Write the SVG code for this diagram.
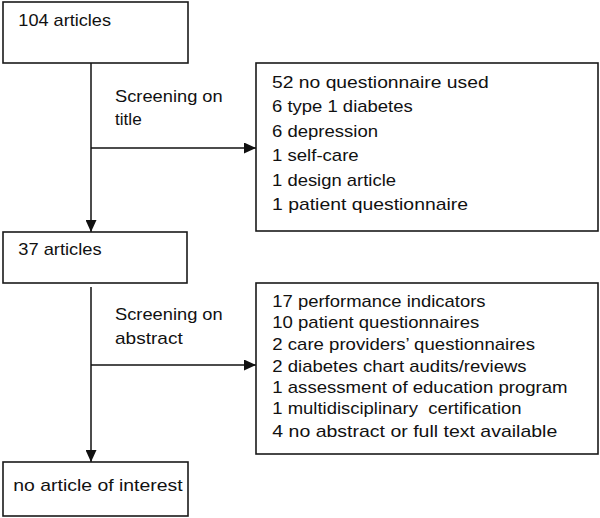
<svg xmlns="http://www.w3.org/2000/svg" width="600" height="518" viewBox="0 0 600 518">
<style>
.box{fill:#fff;stroke:#1a1a1a;stroke-width:1.6}
.t{font-family:"Liberation Sans",Arial,sans-serif;font-size:17px;fill:#111}
.c{stroke:#111;stroke-width:1.5;fill:none}
</style>
<defs>
<marker id="arr" markerUnits="userSpaceOnUse" markerWidth="12" markerHeight="11" refX="12" refY="5.5" orient="auto">
<path d="M0,0 L12,5.5 L0,11 Z" fill="#111"/>
</marker>
</defs>
<rect width="600" height="518" fill="#fff"/>
<g id="connectors">
<line class="c" x1="91" y1="63" x2="91" y2="232" marker-end="url(#arr)"/>
<line class="c" x1="91" y1="148" x2="256" y2="148" marker-end="url(#arr)"/>
<line class="c" x1="91" y1="287" x2="91" y2="462" marker-end="url(#arr)"/>
<line class="c" x1="91" y1="365" x2="256" y2="365" marker-end="url(#arr)"/>
<text class="t" x="115" y="102" textLength="107.7" lengthAdjust="spacingAndGlyphs">Screening on</text>
<text class="t" x="115" y="125" textLength="26.7" lengthAdjust="spacingAndGlyphs">title</text>
<text class="t" x="115" y="320" textLength="107.7" lengthAdjust="spacingAndGlyphs">Screening on</text>
<text class="t" x="115" y="344" textLength="67.7" lengthAdjust="spacingAndGlyphs">abstract</text>
</g>
<g id="n104">
<rect class="box" x="3" y="2" width="185" height="61"/>
<text class="t" x="18.3" y="26" textLength="92.7" lengthAdjust="spacingAndGlyphs">104 articles</text>
</g>
<g id="excluded1">
<rect class="box" x="256" y="63" width="342" height="168"/>
<text class="t" x="272" y="88" textLength="216.7" lengthAdjust="spacingAndGlyphs">52 no questionnaire used</text>
<text class="t" x="272" y="112" textLength="140.7" lengthAdjust="spacingAndGlyphs">6 type 1 diabetes</text>
<text class="t" x="272" y="137" textLength="106" lengthAdjust="spacingAndGlyphs">6 depression</text>
<text class="t" x="272" y="161" textLength="86.7" lengthAdjust="spacingAndGlyphs">1 self-care</text>
<text class="t" x="272" y="186" textLength="124" lengthAdjust="spacingAndGlyphs">1 design article</text>
<text class="t" x="272" y="210" textLength="196" lengthAdjust="spacingAndGlyphs">1 patient questionnaire</text>
</g>
<g id="n37">
<rect class="box" x="3" y="232" width="184" height="51"/>
<text class="t" x="18.3" y="255" textLength="83.3" lengthAdjust="spacingAndGlyphs">37 articles</text>
</g>
<g id="excluded2">
<rect class="box" x="256" y="283" width="342" height="171"/>
<text class="t" x="272.3" y="307" textLength="213.3" lengthAdjust="spacingAndGlyphs">17 performance indicators</text>
<text class="t" x="272.3" y="328" textLength="207" lengthAdjust="spacingAndGlyphs">10 patient questionnaires</text>
<text class="t" x="272.3" y="350" textLength="262.7" lengthAdjust="spacingAndGlyphs">2 care providers’ questionnaires</text>
<text class="t" x="272.3" y="372" textLength="254.3" lengthAdjust="spacingAndGlyphs">2 diabetes chart audits/reviews</text>
<text class="t" x="272.3" y="393" textLength="295.3" lengthAdjust="spacingAndGlyphs">1 assessment of education program</text>
<text class="t" x="272.3" y="414" textLength="249.3" lengthAdjust="spacingAndGlyphs" xml:space="preserve">1 multidisciplinary  certification</text>
<text class="t" x="272.3" y="437" textLength="285" lengthAdjust="spacingAndGlyphs">4 no abstract or full text available</text>
</g>
<g id="none">
<rect class="box" x="3" y="462" width="185" height="54"/>
<text class="t" x="13.3" y="491" textLength="169.3" lengthAdjust="spacingAndGlyphs">no article of interest</text>
</g>
</svg>
